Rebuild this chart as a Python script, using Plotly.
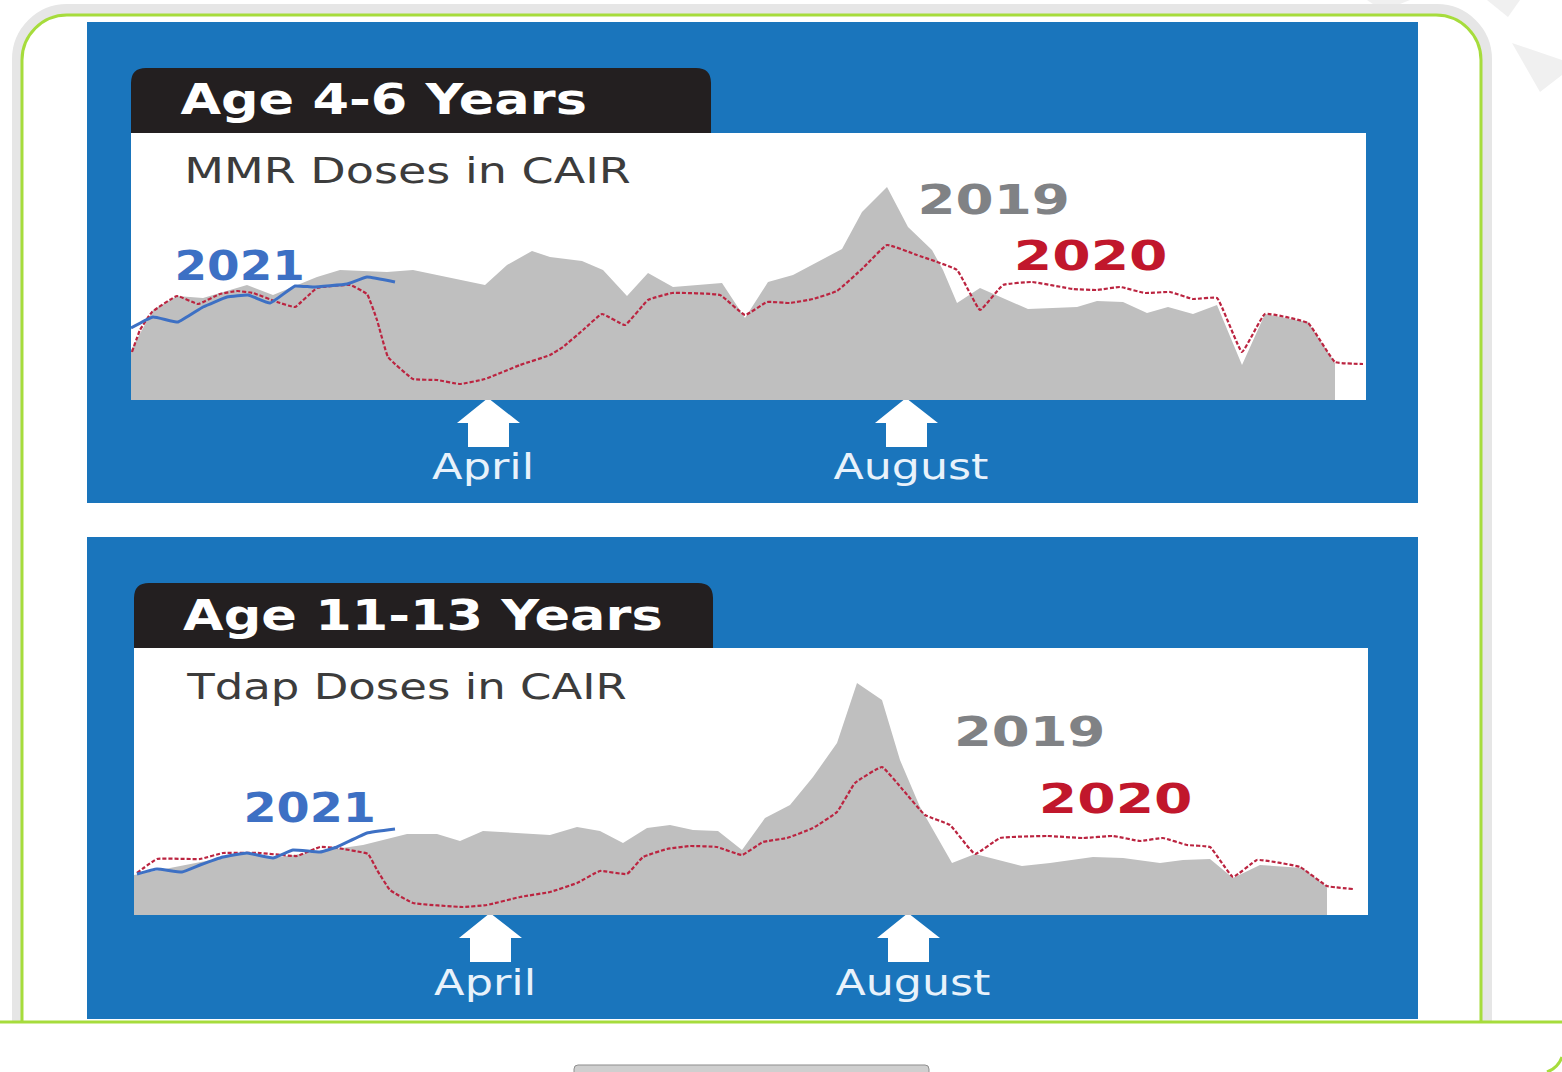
import json
import plotly.graph_objects as go

W, H = 1562, 1072

# Panel 1: Age 4-6, MMR doses in CAIR (x = position along the year, y = doses)
mmr_2019_x = [0,22,46,72,116,142,186,209,256,282,354,376,401,419,451,472,496,517,542,591,614,637,662,711,731,756,777,801,812,826,849,872,897,946,966,992,1016,1037,1062,1086,1111,1134,1177,1204,1204]
mmr_2019_y = [50,90,104,102,115,105,123,130,128,130,115,135,149,143,139,130,104,127,113,117,82,118,125,151,188,213,173,150,130,97,112,102,91,93,99,98,87,93,86,95,35,86,78,37,0]
mmr_2020_x = [1,9,21,46,67,89,106,122,146,164,186,219,236,246,257,282,306,329,354,389,419,432,452,471,494,517,541,589,614,636,659,682,706,732,756,786,826,849,872,901,942,966,989,1014,1039,1062,1086,1111,1134,1177,1204,1232]
mmr_2020_y = [48,70,88,104,96,106,109,107,98,93,112,115,106,80,43,21,20,16,21,35,45,53,70,86,75,100,107,105,85,98,97,101,109,132,155,145,130,90,115,118,111,110,113,107,108,101,102,48,86,77,38,36]
mmr_2021_x = [0,22,47,72,96,117,139,164,182,216,236,264]
mmr_2021_y = [72,83,78,93,103,105,97,114,113,116,123,118]

# Panel 2: Age 11-13, Tdap doses in CAIR
tdap_2019_x = [0,86,113,139,193,229,273,303,326,349,416,443,466,489,513,536,559,584,608,631,656,679,703,723,748,766,786,818,841,888,916,959,989,1026,1049,1076,1099,1126,1169,1193,1193]
tdap_2019_y = [40,57,62,57,65,70,81,81,74,84,80,88,84,72,87,90,85,84,65,97,110,138,172,232,215,155,108,52,61,49,52,58,57,52,55,56,37,50,47,28,0]
tdap_2020_x = [3,23,66,89,126,163,186,203,234,243,256,279,329,353,386,416,443,466,493,509,533,556,583,608,629,653,679,703,721,748,769,791,816,841,866,913,949,979,1006,1029,1053,1076,1099,1123,1166,1193,1219]
tdap_2020_y = [42,56,56,62,62,59,68,67,61,45,25,12,8,10,18,23,32,44,41,58,66,69,68,60,73,77,87,103,132,148,125,100,90,61,77,79,77,79,74,77,70,68,38,55,48,29,26]
tdap_2021_x = [3,23,48,66,89,113,139,159,186,203,233,261]
tdap_2021_y = [41,46,43,50,58,62,57,65,63,68,82,86]

BLUE, GRAY, RED, LBLUE, DARK = "#1a75bc", "#bfbfbf", "#bb2440", "#3d70c4", "#231f20"
GREEN, FRAME = "#a6dc3c", "#e6e6e6"
FONT = "DejaVu Sans"

fx = lambda x: x / W
fy = lambda y: 1 - y / H


def path(*cmds):
    out = []
    for c in cmds:
        if isinstance(c, str):
            out.append(c)
        else:
            out.append(f"{fx(c[0]):.5f},{fy(c[1]):.5f}")
    return " ".join(out)


def shape(d, fill=None, line=None, width=0):
    s = dict(type="path", xref="paper", yref="paper", path=d, layer="below",
             line=dict(color=line or "rgba(0,0,0,0)", width=width))
    s["fillcolor"] = fill or "rgba(0,0,0,0)"
    return s


def rect(x0, y0, x1, y1, fill):
    return dict(type="rect", xref="paper", yref="paper", layer="below",
                x0=fx(x0), x1=fx(x1), y0=fy(y1), y1=fy(y0), fillcolor=fill, line=dict(width=0))


def frame(left, top, right, r, bottom):
    k = r * 0.45
    return path("M", (left, bottom), "L", (left, top + r),
                "C", (left, top + k), (left + k, top), (left + r, top),
                "L", (right - r, top),
                "C", (right - k, top), (right, top + k), (right, top + r),
                "L", (right, bottom))


def tab(x0, y0, x1, y1, r=15):
    return path("M", (x0, y1), "L", (x0, y0 + r), "Q", (x0, y0), (x0 + r, y0),
                "L", (x1 - r, y0), "Q", (x1, y0), (x1, y0 + r), "L", (x1, y1), "Z")


def arrow(cx, apex):
    return path("M", (cx, apex), "L", (cx + 32, apex + 25), "L", (cx + 21, apex + 25),
                "L", (cx + 21, apex + 49), "L", (cx - 20, apex + 49), "L", (cx - 20, apex + 25),
                "L", (cx - 31, apex + 25), "Z")


shapes = [
    shape(path("M", (1512, 43), "L", (1562, 60), "L", (1562, 75), "L", (1540, 92), "Z"), fill="#f0f0f0"),
    shape(path("M", (1487, 0), "L", (1520, 0), "L", (1508, 17), "Z"), fill="#f0f0f0"),
    shape(path("M", (1367, 0), "L", (1410, 0), "L", (1400, 4), "L", (1373, 4), "Z"), fill="#f0f0f0"),
    shape(frame(17, 9, 1487, 50, 1022), line=FRAME, width=10),
    shape(frame(22, 15, 1481, 45, 1022), line=GREEN, width=3),
    rect(87, 22, 1418, 503, BLUE),
    rect(87, 537, 1418, 1019, BLUE),
    rect(131, 133, 1366, 400, "#ffffff"),
    rect(134, 648, 1368, 915, "#ffffff"),
    shape(tab(131, 68, 711, 133), fill=DARK),
    shape(tab(134, 583, 713, 648), fill=DARK),
    shape(arrow(488, 398), fill="#ffffff"),
    shape(arrow(906, 398), fill="#ffffff"),
    shape(arrow(490, 913), fill="#ffffff"),
    shape(arrow(908, 913), fill="#ffffff"),
    rect(0, 1023, W, H, "#ffffff"),
    shape(path("M", (0, 1022), "L", (W, 1022)), line=GREEN, width=3),
    shape(path("M", (1562, 1057), "Q", (1558, 1068), (1547, 1072)), line=GREEN, width=3),
    shape(path("M", (574, 1073), "L", (574, 1069), "Q", (574, 1065), (578, 1065),
               "L", (925, 1065), "Q", (929, 1065), (929, 1069), "L", (929, 1073), "Z"),
          fill="#cfcfcf", line="#8f8f8f", width=1),
]

# text, centre x, centre y, font size, colour, bold, horizontal stretch of the glyphs
labels = [
    ("Age 4-6 Years", 383, 100, 42, "#ffffff", True, 1.25),
    ("Age 11-13 Years", 423, 615, 42, "#ffffff", True, 1.25),
    ("MMR Doses in CAIR", 407, 171, 36, "#3c3c3c", False, 1.28),
    ("Tdap Doses in CAIR", 406, 686, 36, "#3c3c3c", False, 1.25),
    ("2019", 993, 200, 40, "#808285", True, 1.37),
    ("2020", 1090, 256, 40, "#c1172c", True, 1.38),
    ("2021", 240, 266, 40, LBLUE, True, 1.17),
    ("2019", 1029, 732, 40, "#808285", True, 1.36),
    ("2020", 1115, 799, 40, "#c1172c", True, 1.38),
    ("2021", 309, 808, 40, LBLUE, True, 1.19),
    ("April", 483, 467, 36, "#e8f2fb", False, 1.24),
    ("August", 911, 467, 36, "#e8f2fb", False, 1.23),
    ("April", 485, 982, 36, "#e8f2fb", False, 1.24),
    ("August", 913, 982, 36, "#e8f2fb", False, 1.23),
]

annotations = [
    dict(text=t, x=fx(cx), y=fy(cy), xref="paper", yref="paper", xanchor="center", yanchor="middle",
         showarrow=False, font=dict(family=FONT, size=s, color=c, weight=700 if b else 400))
    for t, cx, cy, s, c, b, _ in labels
]

fig = go.Figure()


def add_panel(xa, ya, x19, y19, x20, y20, x21, y21):
    fig.add_trace(go.Scatter(x=x19, y=y19, xaxis=xa, yaxis=ya, mode="lines", name="2019",
                             fill="tozeroy", fillcolor=GRAY, line=dict(width=0, color=GRAY)))
    fig.add_trace(go.Scatter(x=x20, y=y20, xaxis=xa, yaxis=ya, mode="lines", name="2020",
                             line=dict(color=RED, width=2.2, dash="4px,2px", shape="spline", smoothing=0.3)))
    fig.add_trace(go.Scatter(x=x21, y=y21, xaxis=xa, yaxis=ya, mode="lines", name="2021",
                             line=dict(color=LBLUE, width=3, shape="spline", smoothing=0.3)))


add_panel("x", "y", mmr_2019_x, mmr_2019_y, mmr_2020_x, mmr_2020_y, mmr_2021_x, mmr_2021_y)
add_panel("x2", "y2", tdap_2019_x, tdap_2019_y, tdap_2020_x, tdap_2020_y, tdap_2021_x, tdap_2021_y)

hidden = dict(visible=False, showgrid=False, zeroline=False, fixedrange=True)
fig.update_layout(
    width=W, height=H, margin=dict(l=0, r=0, t=0, b=0), showlegend=False,
    paper_bgcolor="#ffffff", plot_bgcolor="rgba(0,0,0,0)",
    shapes=shapes, annotations=annotations,
    xaxis=dict(domain=[fx(131), fx(1366)], range=[0, 1235], anchor="y", **hidden),
    yaxis=dict(domain=[fy(400), fy(133)], range=[0, 267], anchor="x", **hidden),
    xaxis2=dict(domain=[fx(134), fx(1368)], range=[0, 1234], anchor="y2", **hidden),
    yaxis2=dict(domain=[fy(915), fy(648)], range=[0, 267], anchor="x2", **hidden),
)

stretch = json.dumps([l[6] for l in labels])
post = (
    "document.body.style.margin='0';document.body.style.overflow='hidden';"
    "var st=" + stretch + ";"
    "document.querySelectorAll('text.annotation-text').forEach(function(e,i){"
    "e.style.transformBox='fill-box';e.style.transformOrigin='center';"
    "e.style.transform='scaleX('+st[i]+')';});"
)
fig.write_html("out.html", config=dict(displayModeBar=False), post_script=post)
